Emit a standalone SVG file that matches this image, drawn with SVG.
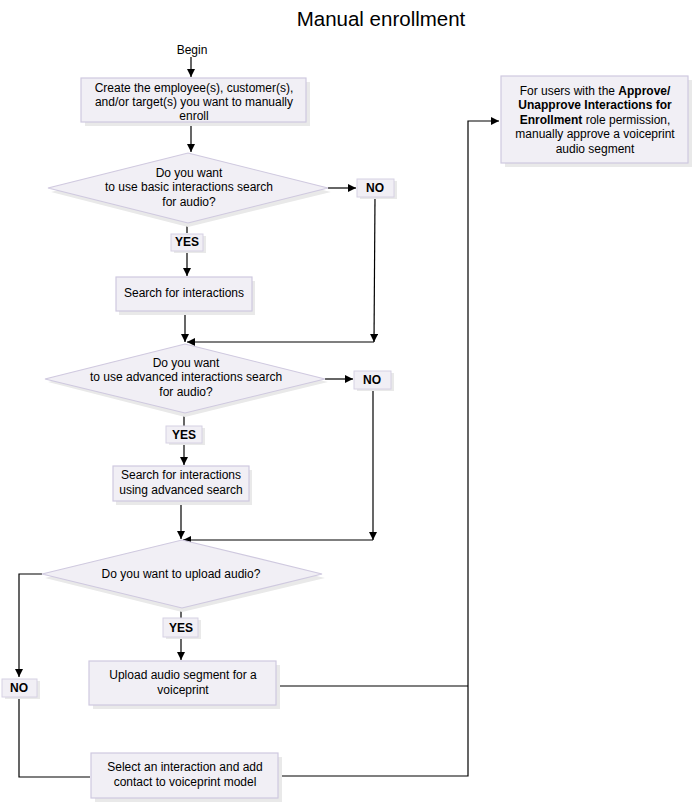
<svg xmlns="http://www.w3.org/2000/svg" width="693" height="804" viewBox="0 0 693 804">
<style>
text{font-family:"Liberation Sans",Arial,sans-serif;font-size:12px;fill:#000;text-anchor:middle}
.title{font-size:20.5px}
.b{font-weight:bold}
.box{fill:#f1eff5;stroke:#cfc9df;stroke-width:1.2}
.sh{fill:#e9e9e9}
.lbl{fill:#f1eff5;stroke:#d6d1e3;stroke-width:1}
.ln{fill:none;stroke:#000;stroke-width:1.2}
</style>
<defs>
<marker id="ah" viewBox="0 0 10 10" refX="10" refY="5" markerWidth="9" markerHeight="8" markerUnits="userSpaceOnUse" orient="auto">
<path d="M0,0 L10,5 L0,10 z" fill="#000"/>
</marker>
</defs>
<rect width="693" height="804" fill="#fff"/>
<text class="title" x="381" y="26">Manual enrollment</text>

<g id="connectors">
<line class="ln" x1="191" y1="57" x2="191" y2="77" marker-end="url(#ah)"/>
<line class="ln" x1="191" y1="124" x2="191" y2="152" marker-end="url(#ah)"/>
<line class="ln" x1="328" y1="188" x2="356" y2="188" marker-end="url(#ah)"/>
<polyline class="ln" points="375,197 374,342" marker-end="url(#ah)"/>
<line class="ln" x1="374" y1="342" x2="187" y2="342" marker-end="url(#ah)"/>
<line class="ln" x1="187" y1="223" x2="187" y2="233"/>
<line class="ln" x1="187" y1="251" x2="187" y2="276" marker-end="url(#ah)"/>
<line class="ln" x1="185" y1="311" x2="185" y2="342" marker-end="url(#ah)"/>
<line class="ln" x1="325" y1="379" x2="353" y2="379" marker-end="url(#ah)"/>
<line class="ln" x1="373" y1="388" x2="373" y2="540" marker-end="url(#ah)"/>
<line class="ln" x1="373" y1="540" x2="183" y2="540" marker-end="url(#ah)"/>
<line class="ln" x1="184" y1="413" x2="184" y2="426"/>
<line class="ln" x1="184" y1="443" x2="184" y2="465" marker-end="url(#ah)"/>
<line class="ln" x1="181" y1="501" x2="181" y2="539" marker-end="url(#ah)"/>
<polyline class="ln" points="42,574 19,574 19,677" marker-end="url(#ah)"/>
<polyline class="ln" points="19,696 19,777 90,777"/>
<line class="ln" x1="181" y1="608" x2="181" y2="618"/>
<line class="ln" x1="181" y1="637" x2="181" y2="660" marker-end="url(#ah)"/>
<polyline class="ln" points="277,686 468,686"/>
<polyline class="ln" points="279,776 468,776 468,121 499,121" marker-end="url(#ah)"/>
</g>

<g id="begin"><text x="192" y="54">Begin</text></g>

<g id="create">
<rect class="sh" x="85" y="82" width="225" height="44"/>
<rect class="box" x="81" y="78" width="225" height="44"/>
<text x="194" y="92">Create the employee(s), customer(s),</text>
<text x="194" y="106">and/or target(s) you want to manually</text>
<text x="194" y="120">enroll</text>
</g>

<g id="d1">
<polygon class="sh" points="188,157 331,192 188,227 51,192"/>
<polygon class="box" points="188,153 328,188 188,223 48,188"/>
<text x="189" y="177">Do you want</text>
<text x="189" y="191">to use basic interactions search</text>
<text x="189" y="206">for audio?</text>
</g>

<g id="no1">
<rect class="sh" x="360" y="181" width="37" height="18"/>
<rect class="lbl" x="357" y="179" width="37" height="18"/>
<text class="b" x="375" y="192">NO</text>
</g>

<g id="yes1">
<rect class="sh" x="174" y="236" width="32" height="17"/>
<rect class="lbl" x="171" y="234" width="32" height="17"/>
<text class="b" x="187" y="246">YES</text>
</g>

<g id="search1">
<rect class="sh" x="119" y="281" width="136" height="34"/>
<rect class="box" x="116" y="277" width="136" height="34"/>
<text x="184" y="297">Search for interactions</text>
</g>

<g id="d2">
<polygon class="sh" points="185,348 328,382 185,417 48,382"/>
<polygon class="box" points="185,344 325,379 185,413 45,379"/>
<text x="186" y="367">Do you want</text>
<text x="186" y="381">to use advanced  interactions search</text>
<text x="186" y="396">for audio?</text>
</g>

<g id="no2">
<rect class="sh" x="357" y="373" width="37" height="18"/>
<rect class="lbl" x="354" y="371" width="37" height="18"/>
<text class="b" x="372" y="384">NO</text>
</g>

<g id="yes2">
<rect class="sh" x="169" y="428" width="36" height="17"/>
<rect class="lbl" x="166" y="426" width="36" height="17"/>
<text class="b" x="184" y="439">YES</text>
</g>

<g id="search2">
<rect class="sh" x="116" y="470" width="136" height="35"/>
<rect class="box" x="113" y="466" width="136" height="35"/>
<text x="181" y="479">Search for interactions</text>
<text x="181" y="494">using advanced search</text>
</g>

<g id="d3">
<polygon class="sh" points="182,544 325,578 182,612 45,578"/>
<polygon class="box" points="182,540 322,574 182,608 42,574"/>
<text x="181" y="578">Do you want to upload audio?</text>
</g>

<g id="yes3">
<rect class="sh" x="166" y="620" width="35" height="19"/>
<rect class="lbl" x="163" y="618" width="35" height="19"/>
<text class="b" x="181" y="632">YES</text>
</g>

<g id="no3">
<rect class="sh" x="5" y="681" width="35" height="18"/>
<rect class="lbl" x="2" y="679" width="35" height="18"/>
<text class="b" x="19" y="692">NO</text>
</g>

<g id="upload">
<rect class="sh" x="93" y="665" width="187" height="44"/>
<rect class="box" x="89" y="661" width="187" height="44"/>
<text x="183" y="679">Upload audio segment for a</text>
<text x="183" y="694">voiceprint</text>
</g>

<g id="select">
<rect class="sh" x="95" y="757" width="187" height="45"/>
<rect class="box" x="91" y="753" width="187" height="45"/>
<text x="185" y="771">Select an interaction and add</text>
<text x="185" y="786">contact to voiceprint model</text>
</g>

<g id="approve">
<rect class="sh" x="505" y="80" width="187" height="87"/>
<rect class="box" x="501" y="76" width="187" height="87"/>
<text x="595" y="95">For users with the <tspan class="b">Approve/</tspan></text>
<text x="595" y="109" class="b">Unapprove Interactions for</text>
<text x="595" y="124"><tspan class="b">Enrollment</tspan> role permission,</text>
<text x="595" y="138">manually approve a voiceprint</text>
<text x="595" y="153">audio segment</text>
</g>
</svg>
